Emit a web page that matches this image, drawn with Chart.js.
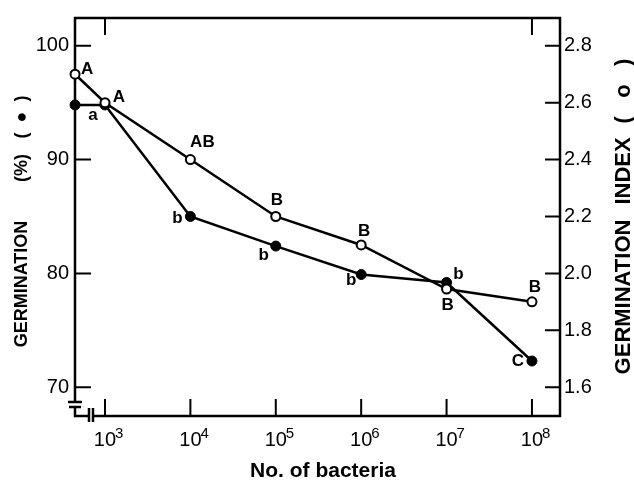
<!DOCTYPE html>
<html lang="en">
<head>
    <meta charset="UTF-8">
    <title>Germination vs number of bacteria</title>
    <script src="https://cdn.jsdelivr.net/npm/chart.js"></script>
    <style>
        html, body { margin: 0; padding: 0; background: #fff; }
        .wrap { width: 634px; height: 482px; }
    </style>
</head>
<body>
<div class="wrap"><canvas id="germChart" width="634" height="482"></canvas></div>
<script>
    // control (0 bacteria) can't sit on a log axis, so it is plotted at the left edge
    const CONTROL_X = 446;
    const X_VALUES = [CONTROL_X, 1e3, 1e4, 1e5, 1e6, 1e7, 1e8];

    // filled circles, left axis
    const GERM_PCT = [94.8, 94.8, 85.0, 82.4, 79.9, 79.2, 72.3];
    const PCT_LETTERS = ['a', '', 'b', 'b', 'b', 'b', 'C'];

    // open circles, right axis
    const GERM_INDEX = [2.70, 2.60, 2.40, 2.20, 2.10, 1.945, 1.90];
    const INDEX_LETTERS = ['A', 'A', 'AB', 'B', 'B', 'B', 'B'];

    const X_TICKS = [1e3, 1e4, 1e5, 1e6, 1e7, 1e8];
    const X_TICK_EXPONENTS = ['3', '4', '5', '6', '7', '8'];
    const TOP_TICKS = [1e3, 1e8];
    const PCT_TICKS = [70, 80, 90, 100];
    const INDEX_TICKS = [1.6, 1.8, 2.0, 2.2, 2.4, 2.6, 2.8];

    // where each letter sits relative to its point (px)
    const PCT_OFFSETS = [[18, 10], [0, 0], [-13, 2], [-12, 9], [-10, 6], [12, -8], [-14, 0]];
    const INDEX_OFFSETS = [[12, -5], [14, -5], [12, -17], [1, -16], [3, -14], [1, 16], [3, -15]];

    const FONT = 'Liberation Sans, Arial, sans-serif';
    const tickFont = { family: FONT, size: 20 };

    const figurePlugin = {
        id: 'figure',
        beforeDatasetsDraw(chart) {
            const { ctx, chartArea: a, scales } = chart;
            ctx.save();
            ctx.strokeStyle = '#000';
            ctx.lineWidth = 2.5;
            ctx.lineCap = 'butt';

            // frame with axis breaks near the origin
            ctx.beginPath();
            ctx.moveTo(a.left, a.bottom - 14);
            ctx.lineTo(a.left, a.top);
            ctx.lineTo(a.right, a.top);
            ctx.lineTo(a.right, a.bottom);
            ctx.lineTo(a.left + 18, a.bottom);
            ctx.moveTo(a.left + 14, a.bottom);
            ctx.lineTo(a.left, a.bottom);
            ctx.lineTo(a.left, a.bottom - 9);
            ctx.moveTo(a.left - 7, a.bottom - 14);
            ctx.lineTo(a.left + 7, a.bottom - 14);
            ctx.moveTo(a.left - 6, a.bottom - 9);
            ctx.lineTo(a.left + 6, a.bottom - 9);
            ctx.moveTo(a.left + 14, a.bottom - 8);
            ctx.lineTo(a.left + 14, a.bottom + 6);
            ctx.moveTo(a.left + 18, a.bottom - 8);
            ctx.lineTo(a.left + 18, a.bottom + 6);
            ctx.stroke();

            // inward tick marks
            ctx.lineWidth = 2;
            ctx.beginPath();
            PCT_TICKS.forEach(v => {
                const y = scales.y.getPixelForValue(v);
                ctx.moveTo(a.left, y);
                ctx.lineTo(a.left + 16, y);
            });
            INDEX_TICKS.forEach(v => {
                const y = scales.y2.getPixelForValue(v);
                ctx.moveTo(a.right, y);
                ctx.lineTo(a.right - 15, y);
            });
            X_TICKS.forEach(v => {
                const x = scales.x.getPixelForValue(v);
                ctx.moveTo(x, a.bottom);
                ctx.lineTo(x, a.bottom - 17);
            });
            TOP_TICKS.forEach(v => {
                const x = scales.x.getPixelForValue(v);
                ctx.moveTo(x, a.top);
                ctx.lineTo(x, a.top + 17);
            });
            ctx.stroke();

            // x tick labels as 10 with a raised exponent
            ctx.fillStyle = '#000';
            ctx.textBaseline = 'alphabetic';
            X_TICKS.forEach((v, i) => {
                const x = scales.x.getPixelForValue(v);
                ctx.font = '20px ' + FONT;
                ctx.textAlign = 'center';
                ctx.fillText('10', x, a.bottom + 30);
                ctx.font = '15px ' + FONT;
                ctx.textAlign = 'left';
                ctx.fillText(X_TICK_EXPONENTS[i], x + 10, a.bottom + 22);
            });
            ctx.restore();
        },
        afterDatasetsDraw(chart) {
            const { ctx } = chart;
            ctx.save();
            ctx.fillStyle = '#000';
            ctx.font = 'bold 17px ' + FONT;
            ctx.textAlign = 'center';
            ctx.textBaseline = 'middle';
            const sets = [[0, INDEX_LETTERS, INDEX_OFFSETS], [1, PCT_LETTERS, PCT_OFFSETS]];
            sets.forEach(([idx, letters, offs]) => {
                chart.getDatasetMeta(idx).data.forEach((pt, i) => {
                    if (!letters[i]) return;
                    ctx.fillText(letters[i], pt.x + offs[i][0], pt.y + offs[i][1]);
                });
            });

            // axis titles
            ctx.font = 'bold 18px ' + FONT;
            ctx.save();
            ctx.translate(22, 0);
            ctx.rotate(-Math.PI / 2);
            ctx.fillText('GERMINATION', -284, 0);
            ctx.fillText('(%)', -168, 0);
            ctx.fillText('(  ●  )', -117, 0);
            ctx.restore();

            ctx.font = 'bold 22px ' + FONT;
            ctx.save();
            ctx.translate(624, 0);
            ctx.rotate(-Math.PI / 2);
            ctx.fillText('GERMINATION', -297, 0);
            ctx.fillText('INDEX', -171, 0);
            ctx.fillText('(   o   )', -91, 0);
            ctx.restore();

            ctx.font = 'bold 21px ' + FONT;
            ctx.fillText('No. of bacteria', 323, 471);
            ctx.restore();
        }
    };

    new Chart(document.getElementById('germChart'), {
        type: 'scatter',
        data: {
            datasets: [
                {
                    label: 'Germination index',
                    data: X_VALUES.map((x, i) => ({ x: x, y: GERM_INDEX[i] })),
                    yAxisID: 'y2',
                    showLine: true,
                    borderColor: '#000',
                    borderWidth: 2.5,
                    pointRadius: 4.5,
                    pointBorderWidth: 2,
                    pointBackgroundColor: '#fff',
                    pointBorderColor: '#000',
                    clip: false
                },
                {
                    label: 'Germination (%)',
                    data: X_VALUES.map((x, i) => ({ x: x, y: GERM_PCT[i] })),
                    yAxisID: 'y',
                    showLine: true,
                    borderColor: '#000',
                    borderWidth: 2.5,
                    pointRadius: 5,
                    pointBorderWidth: 1,
                    pointBackgroundColor: '#000',
                    pointBorderColor: '#000',
                    clip: false
                }
            ]
        },
        options: {
            responsive: false,
            animation: false,
            layout: { padding: { top: 15, left: 0, right: 0, bottom: 0 } },
            plugins: {
                legend: { display: false },
                tooltip: { enabled: false }
            },
            scales: {
                x: {
                    type: 'logarithmic',
                    min: 445.4,
                    max: 2.13e8,
                    afterBuildTicks: s => { s.ticks = X_TICKS.map(v => ({ value: v })); },
                    afterFit: s => { s.height = 66; },
                    grid: { display: false, drawTicks: false },
                    border: { display: false },
                    ticks: { display: false }
                },
                y: {
                    position: 'left',
                    min: 67.47,
                    max: 102.44,
                    afterBuildTicks: s => { s.ticks = PCT_TICKS.map(v => ({ value: v })); },
                    afterFit: s => { s.width = 75; },
                    grid: { display: false, drawTicks: false },
                    border: { display: false },
                    ticks: { padding: 6, color: '#000', font: tickFont }
                },
                y2: {
                    position: 'right',
                    min: 1.4988,
                    max: 2.8976,
                    afterBuildTicks: s => { s.ticks = INDEX_TICKS.map(v => ({ value: v })); },
                    afterFit: s => { s.width = 74; },
                    grid: { display: false, drawTicks: false },
                    border: { display: false },
                    ticks: {
                        callback: v => v.toFixed(1),
                        padding: 4,
                        color: '#000',
                        font: tickFont
                    }
                }
            }
        },
        plugins: [figurePlugin]
    });
</script>
</body>
</html>
